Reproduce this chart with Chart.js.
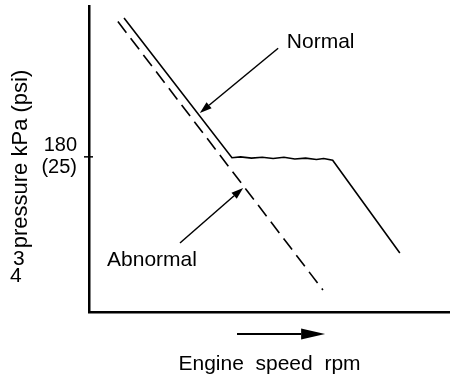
<!DOCTYPE html>
<html>
<head>
<meta charset="utf-8">
<script src="https://cdn.jsdelivr.net/npm/chart.js@4.4.1/dist/chart.umd.min.js"></script>
<style>
  html, body { margin: 0; padding: 0; background: #fff; }
  #wrap { width: 450px; height: 380px; }
</style>
</head>
<body>
<div id="wrap"><canvas id="oilChart" width="450" height="380"></canvas></div>
<script>
// Oil pressure vs engine speed (arbitrary speed units 0..100, pressure in kPa)
const normalSpeed = [9.7, 39.6, 42, 45, 48, 51, 54, 57, 60, 63, 65, 67.5, 86.1];
const normalPressure = [341, 179, 180, 178.5, 179.5, 178, 179.5, 177.5, 178.5, 177, 178, 176, 68.5];

const abnormalSpeed = [8.0, 64.8];
const abnormalPressure = [337, 25.5];

const yTicks = [180];
const yTickLabels = [["180", "(25)"]];

// labels with arrows: [text, textX, textY, arrowFromX, arrowFromY, arrowToX, arrowToY]
const callouts = [
    ["Normal", 54.8, 313, 52.4, 306, 30.7, 231],
    ["Abnormal", 5.0, 60, 25.2, 80, 42.7, 144]
];
const speedArrow = [41, 65.4];   // arrow under the x axis
const extraYLabels = ["3", "4"];

const FONT = "'Liberation Sans', Arial, sans-serif";

function arrow(ctx, x1, y1, x2, y2, headLen, headW) {
    const a = Math.atan2(y2 - y1, x2 - x1);
    const bx = x2 - headLen * Math.cos(a), by = y2 - headLen * Math.sin(a);
    ctx.beginPath();
    ctx.moveTo(x1, y1);
    ctx.lineTo(bx, by);
    ctx.stroke();
    ctx.beginPath();
    ctx.moveTo(x2, y2);
    ctx.lineTo(bx + headW * Math.sin(a), by - headW * Math.cos(a));
    ctx.lineTo(bx - headW * Math.sin(a), by + headW * Math.cos(a));
    ctx.closePath();
    ctx.fill();
}

const annotations = {
    id: "annotations",
    afterDraw(chart) {
        const ctx = chart.ctx;
        const xs = chart.scales.x, ys = chart.scales.y;
        ctx.save();
        ctx.fillStyle = "#000";
        ctx.strokeStyle = "#000";
        ctx.lineWidth = 1.5;
        ctx.font = "21px " + FONT;
        ctx.textBaseline = "middle";
        ctx.textAlign = "left";
        callouts.forEach(c => {
            ctx.fillText(c[0], xs.getPixelForValue(c[1]), ys.getPixelForValue(c[2]));
            arrow(ctx, xs.getPixelForValue(c[3]), ys.getPixelForValue(c[4]),
                  xs.getPixelForValue(c[5]), ys.getPixelForValue(c[6]), 12, 4);
        });

        // arrow under x axis
        const ay = chart.chartArea.bottom + 22;
        ctx.lineWidth = 2;
        arrow(ctx, xs.getPixelForValue(speedArrow[0]), ay, xs.getPixelForValue(speedArrow[1]), ay, 24, 5.5);

        // tick mark crossing the y axis
        ctx.lineWidth = 1.5;
        yTicks.forEach(v => {
            const py = ys.getPixelForValue(v);
            ctx.beginPath();
            ctx.moveTo(chart.chartArea.left - 5, py);
            ctx.lineTo(chart.chartArea.left + 4, py);
            ctx.stroke();
        });

        // stray digits under the y title
        ctx.font = "21px " + FONT;
        ctx.textAlign = "left";
        ctx.fillText(extraYLabels[0], 13, 259);
        ctx.fillText(extraYLabels[1], 10, 276);
        ctx.restore();
    }
};

const ctx = document.getElementById("oilChart").getContext("2d");
new Chart(ctx, {
    type: "scatter",
    data: {
        datasets: [
            {
                label: "Normal",
                data: normalSpeed.map((s, i) => ({ x: s, y: normalPressure[i] })),
                showLine: true,
                borderColor: "#000",
                borderWidth: 1.6,
                pointRadius: 0,
                tension: 0
            },
            {
                label: "Abnormal",
                data: abnormalSpeed.map((s, i) => ({ x: s, y: abnormalPressure[i] })),
                showLine: true,
                borderColor: "#000",
                borderWidth: 1.6,
                borderDash: [14, 7],
                pointRadius: 0
            }
        ]
    },
    options: {
        responsive: false,
        animation: false,
        layout: { padding: { top: 6, right: 0, bottom: 0, left: 0 } },
        plugins: {
            legend: { display: false },
            tooltip: { enabled: false }
        },
        scales: {
            x: {
                type: "linear",
                min: 0,
                max: 100,
                grid: { display: false },
                border: { display: true, color: "#000", width: 2.5 },
                ticks: { display: false },
                title: {
                    display: true,
                    text: "Engine  speed  rpm",
                    color: "#000",
                    font: { size: 21, family: FONT },
                    padding: { top: 0, bottom: 3 }
                },
                afterFit(scale) {
                    scale.height = 68;
                    scale.paddingLeft = 0;
                    scale.paddingRight = 0;
                }
            },
            y: {
                type: "linear",
                min: 0,
                max: 355,
                afterBuildTicks(scale) {
                    scale.ticks = yTicks.map(v => ({ value: v }));
                },
                grid: { drawOnChartArea: false, drawTicks: false },
                border: { display: true, color: "#000", width: 2.5 },
                ticks: {
                    color: "#000",
                    padding: 12,
                    font: { size: 20, family: FONT, lineHeight: 1.1 },
                    callback: (v) => yTickLabels[yTicks.indexOf(v)]
                },
                title: {
                    display: true,
                    text: "pressure kPa (psi)",
                    color: "#000",
                    font: { size: 22, family: FONT },
                    padding: { top: 8, bottom: 0 }
                },
                afterFit(scale) {
                    scale.width = 89;
                    scale.paddingTop = 0;
                    scale.paddingBottom = 0;
                }
            }
        }
    },
    plugins: [annotations]
});
</script>
</body>
</html>
